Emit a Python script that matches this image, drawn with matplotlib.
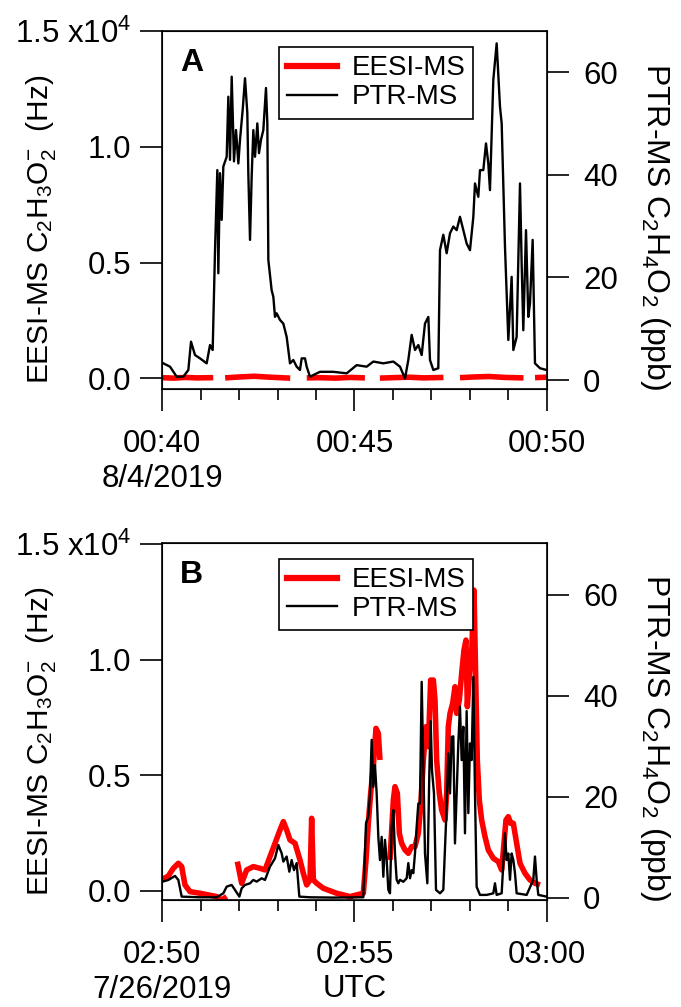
import numpy as np
import matplotlib
matplotlib.use("Agg")
from matplotlib import pyplot as plt
from matplotlib.lines import Line2D

plt.rcParams['font.family'] = ['Liberation Sans', 'DejaVu Sans']
plt.rcParams['mathtext.fontset'] = 'custom'
plt.rcParams['mathtext.rm'] = 'Liberation Sans'
plt.rcParams['mathtext.it'] = 'Liberation Sans:italic'
plt.rcParams['mathtext.bf'] = 'Liberation Sans:bold'

nan = np.nan

# ---- panel A, 8/4/2019, minutes after 00:00 UTC ----
eesi_a_t = [40.0, 40.3, 40.6, 40.9, 41.33, 41.5, 41.64, 42.0, 42.4, 42.8, 43.33, 43.5,
            43.76, 44.1, 44.5, 44.9, 45.27, 45.5, 45.66, 46.0, 46.4, 46.8, 47.31, 47.5,
            47.74, 48.1, 48.5, 48.9, 49.39, 49.5, 49.69, 50.0]
eesi_a_hz = [30, 10, 40, 20, 30, nan, 20, 60, 90, 50, 10, nan,
             20, 30, 10, 40, 20, nan, 10, 30, 50, 20, 40, nan,
             30, 60, 80, 40, 20, nan, 30, 50]

ptr_a_t = [40.035, 40.208, 40.381, 40.554, 40.684, 40.753, 40.857, 40.987, 41.160, 41.247,
           41.316, 41.377, 41.437, 41.463, 41.506, 41.550, 41.593, 41.680, 41.723, 41.766,
           41.810, 41.870, 41.922, 41.983, 42.026, 42.095, 42.156, 42.216, 42.242, 42.286,
           42.329, 42.372, 42.416, 42.476, 42.519, 42.571, 42.632, 42.701, 42.736, 42.762,
           42.848, 42.892, 42.935, 42.978, 43.065, 43.151, 43.238, 43.325, 43.411, 43.498,
           43.584, 43.628, 43.714, 43.758, 43.844, 44.104, 44.450, 44.797, 45.056, 45.316,
           45.489, 45.749, 46.009, 46.182, 46.312, 46.398, 46.485, 46.571, 46.658, 46.745,
           46.831, 46.918, 46.961, 47.048, 47.177, 47.221, 47.307, 47.394, 47.481, 47.567,
           47.654, 47.740, 47.827, 47.913, 48.000, 48.087, 48.130, 48.216, 48.260, 48.346,
           48.416, 48.476, 48.519, 48.606, 48.693, 48.779, 48.823, 48.909, 48.996, 49.082,
           49.126, 49.212, 49.299, 49.342, 49.385, 49.455, 49.515, 49.558, 49.628, 49.688,
           49.818, 49.991]
ptr_a_ppb = [3.25, 2.6, 0.65, 0.65, 1.95, 7.47, 4.87, 4.22, 3.25, 6.82,
             5.85, 25.3, 40.9, 20.8, 40.3, 31.2, 41.6, 43.5, 55.2, 42.9,
             59.1, 42.6, 48.7, 42.2, 46.8, 52.6, 58.8, 52.0, 40.3, 27.3,
             39.6, 48.7, 43.5, 50.0, 44.2, 46.8, 48.7, 56.9, 50.0, 23.4,
             17.5, 16.2, 12.3, 13.0, 11.7, 11.0, 8.4, 3.25, 3.9, 2.6,
             1.95, 4.22, 4.22, 2.6, 0.65, 1.6, 1.6, 1.3, 2.9, 2.6,
             3.6, 3.25, 3.6, 2.6, 0.3, 3.9, 8.8, 5.85, 6.82, 4.87,
             11.0, 12.3, 3.9, 1.95, 2.3, 25.3, 28.3, 24.7, 28.6, 29.9,
             29.2, 31.8, 29.2, 26.6, 25.3, 31.8, 38.3, 35.7, 40.9, 40.9,
             46.1, 42.2, 37.0, 58.5, 65.6, 53.3, 50.0, 26.0, 7.8, 20.1,
             5.85, 8.4, 38.3, 22.7, 9.7, 29.2, 12.3, 14.9, 27.3, 3.25,
             2.3, 1.95]

# ---- panel B, 7/26/2019, minutes after 02:00 UTC ----
eesi_b_t = [50.017, 50.165, 50.294, 50.424, 50.511, 50.597, 50.727, 50.987, 51.420, 51.550,
            51.680, 51.80, 51.957, 52.069, 52.199, 52.372, 52.545, 52.675, 52.805, 52.935,
            53.065, 53.152, 53.238, 53.325, 53.455, 53.584, 53.671, 53.758, 53.844, 53.887,
            53.931, 54.017, 54.190, 54.537, 54.883, 55.229, 55.299, 55.359, 55.420, 55.489,
            55.558, 55.619, 55.662, 55.80, 55.922, 56.009, 56.052, 56.113, 56.165, 56.225,
            56.312, 56.398, 56.485, 56.571, 56.658, 56.719, 56.788, 56.857, 56.918, 56.978,
            57.048, 57.091, 57.134, 57.203, 57.264, 57.351, 57.394, 57.437, 57.481, 57.550,
            57.610, 57.654, 57.723, 57.784, 57.844, 57.896, 57.931, 57.983, 58.043, 58.104,
            58.156, 58.190, 58.242, 58.303, 58.390, 58.476, 58.606, 58.736, 58.823, 58.883,
            58.935, 58.996, 59.056, 59.126, 59.212, 59.299, 59.429, 59.558, 59.688, 59.818,
            59.90, 59.991]
eesi_b_hz = [504, 648, 979, 1195, 1051, 259, -29, -101, -245, -389,
             -245, nan, 1267, 331, 907, 1051, 979, 907, 1483, 2059,
             2635, 2995, 2635, 2203, 2059, 1339, 763, 259, 475, 3139,
             475, 331, 115, -101, -245, -101, 1339, 2923, 4219, 5371,
             7027, 6811, 5659, nan, 1339, 3931, 4507, 4219, 2491, 2059,
             1771, 1627, 1915, 1915, 2491, 3643, 5659, 7099, 6235, 9115,
             9115, 8251, 5659, 4219, 3499, 3067, 4219, 7099, 7675, 8107,
             8827, 7675, 8251, 9403, 10411, 10843, 7963, 9259, 10267, 13003,
             8539, 5659, 3931, 3067, 2347, 1771, 1411, 1267, 907, 2059,
             3067, 3211, 2923, 2923, 2059, 1195, 763, 475, 331, 259,
             nan, 331]

ptr_b_t = [50.017, 50.165, 50.338, 50.424, 50.511, 50.727, 50.987, 51.420, 51.593, 51.680,
           51.810, 51.896, 52.009, 52.069, 52.156, 52.286, 52.372, 52.459, 52.589, 52.675,
           52.805, 52.935, 53.022, 53.108, 53.152, 53.238, 53.307, 53.368, 53.429, 53.498,
           53.567, 53.844, 54.450, 55.229, 55.299, 55.359, 55.403, 55.446, 55.489, 55.532,
           55.576, 55.619, 55.662, 55.706, 55.749, 55.792, 55.836, 55.879, 55.922, 55.965,
           56.009, 56.052, 56.095, 56.139, 56.182, 56.268, 56.355, 56.398, 56.442, 56.485,
           56.528, 56.571, 56.615, 56.658, 56.701, 56.745, 56.788, 56.831, 56.892, 56.944,
           56.978, 57.013, 57.065, 57.117, 57.221, 57.307, 57.377, 57.437, 57.481, 57.524,
           57.567, 57.610, 57.654, 57.697, 57.740, 57.784, 57.827, 57.870, 57.913, 57.957,
           58.000, 58.043, 58.087, 58.130, 58.173, 58.260, 58.433, 58.606, 58.649, 58.693,
           58.823, 58.909, 58.952, 58.996, 59.039, 59.082, 59.126, 59.169, 59.212, 59.472,
           59.645, 59.688, 59.732, 59.775, 59.991]
ptr_b_ppb = [3.23, 3.56, 4.36, 3.56, 0.26, 0.2, 0.13, 0.13, 0.92, 2.24,
             2.57, 1.58, 0.26, 1.91, 2.57, 2.9, 3.56, 3.23, 3.89, 3.56,
             6.2, 7.85, 10.5, 8.84, 7.2, 8.2, 5.2, 7.5, 5.5, 6.9,
             0.26, 0.13, 0.07, 0.13, 14.8, 16.1, 20.7, 31.3, 22.0, 26.3,
             20.7, 12.1, 7.5, 12.1, 4.2, 11.5, 7.5, 1.6, 0.92, 14.1,
             17.4, 8.8, 3.6, 2.9, 3.6, 3.2, 3.9, 6.9, 3.9, 5.5,
             4.9, 8.8, 14.1, 18.7, 18.7, 42.8, 26.0, 8.8, 2.9, 24.7,
             35.0, 25.3, 20.7, 1.6, 0.92, 1.6, 14.8, 28.6, 20.7, 31.9,
             32.0, 10.8, 20.7, 30.6, 37.9, 27.3, 33.9, 12.8, 37.0, 16.8,
             30.6, 27.3, 43.8, 20.7, 2.2, 0.6, 0.6, 0.92, 2.9, 0.6,
             0.92, 12.8, 7.5, 8.8, 3.6, 8.8, 7.5, 4.9, 0.92, 0.6,
             3.6, 8.2, 3.6, 0.6, 0.26]

hz_ticks = [0, 5000, 10000, 15000]
hz_labels = ['0.0', '0.5', '1.0', '1.5 x10$^4$']
ppb_ticks = [0, 20, 40, 60]

FS = 22.5
RED = '#ff0000'


def draw_panel(ax, e_t, e_v, p_t, p_v, t0, xlabels, letter, hz_lim, ppb_lim):
    ax.plot(e_t, e_v, color=RED, lw=4, solid_capstyle='butt', solid_joinstyle='round')
    ax.set_xlim(t0, t0 + 10)
    ax.set_ylim(*hz_lim)
    ax.set_yticks(hz_ticks)
    ax.set_yticklabels(hz_labels)
    ax.set_xticks([t0, t0 + 5, t0 + 10])
    ax.set_xticklabels(xlabels)
    ax.set_xticks(np.arange(t0, t0 + 10.5, 1), minor=True)
    ax.tick_params(axis='x', which='major', direction='out', length=16, width=1.2,
                   labelsize=FS, pad=13)
    ax.tick_params(axis='x', which='minor', direction='out', length=8, width=1.2)
    ax.tick_params(axis='y', direction='out', length=16, width=1.2, labelsize=FS, pad=6)
    for s in ax.spines.values():
        s.set_linewidth(1.2)
    ax.set_ylabel('EESI-MS C$_2$H$_3$O$_2^{-}$  (Hz)', fontsize=21.5)
    ax.yaxis.set_label_coords(-0.27, 0.445)

    ax2 = ax.twinx()
    ax2.plot(p_t, p_v, color='black', lw=1.7)
    ax2.set_ylim(*ppb_lim)
    ax2.set_yticks(ppb_ticks)
    ax2.tick_params(axis='y', direction='out', length=16, width=1.2, labelsize=FS, pad=10)
    ax2.set_ylabel('PTR-MS C$_2$H$_4$O$_2$ (ppb)', fontsize=23, rotation=270, va='bottom')
    ax2.yaxis.set_label_coords(1.237, 0.455)

    ax2.text(0.047, 0.91, letter, transform=ax.transAxes, fontsize=23,
             fontweight='bold', va='center', ha='left')
    handles = [Line2D([], [], color=RED, lw=4.5),
               Line2D([], [], color='black', lw=1.7)]
    leg = ax2.legend(handles, ['EESI-MS', 'PTR-MS'], loc='upper left',
                     bbox_to_anchor=(0.304, 0.955), fontsize=20, frameon=True,
                     fancybox=False, framealpha=1, edgecolor='black',
                     handlelength=1.8, handletextpad=0.5, labelspacing=0.1,
                     borderpad=0.3, borderaxespad=0)
    leg.get_frame().set_linewidth(1.2)
    return ax2


fig = plt.figure(figsize=(6.81, 10.07), dpi=100)
ax_a = fig.add_axes([0.2379, 0.6137, 0.5653, 0.3555])
ax_b = fig.add_axes([0.2379, 0.1063, 0.5653, 0.3545])

draw_panel(ax_a, eesi_a_t, eesi_a_hz, ptr_a_t, ptr_a_ppb, 40,
           ['00:40\n8/4/2019', '00:45', '00:50'], 'A', (-460, 15000), (-1.75, 68))
draw_panel(ax_b, eesi_b_t, eesi_b_hz, ptr_b_t, ptr_b_ppb, 50,
           ['02:50\n7/26/2019', '02:55', '03:00'], 'B', (-390, 15040), (-0.4, 70.3))
ax_b.set_xlabel('UTC', fontsize=FS, va='bottom')
ax_b.xaxis.set_label_coords(0.5, -0.292)

fig.savefig('out.png', dpi=100)
